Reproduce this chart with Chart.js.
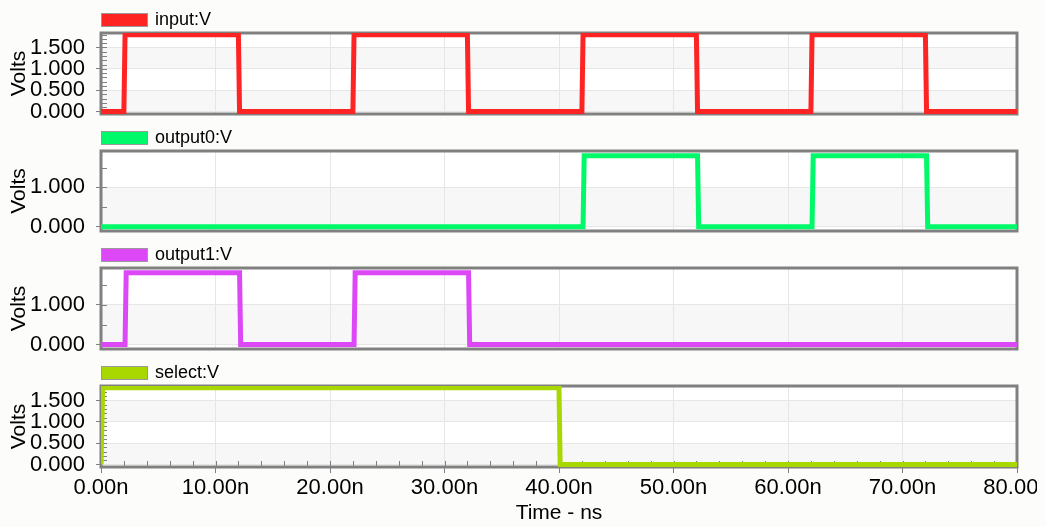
<!DOCTYPE html>
<html>
<head>
<meta charset="utf-8">
<script src="https://cdn.jsdelivr.net/npm/chart.js@4.4.1/dist/chart.umd.min.js"></script>
<style>
  html, body { margin: 0; padding: 0; overflow: hidden; background: #fcfcfa; }
  #wrap { position: relative; width: 1037px; height: 527px; overflow: hidden; }
  canvas { position: absolute; left: 0; }
</style>
</head>
<body>
<div id="wrap">
  <canvas id="c1" width="1080" height="139" style="top:0px"></canvas>
  <canvas id="c2" width="1080" height="138" style="top:118px"></canvas>
  <canvas id="c3" width="1080" height="139" style="top:235px"></canvas>
  <canvas id="c4" width="1080" height="174" style="top:353px"></canvas>
</div>
<script>
// waveforms (time in ns, value in V)
const inputT = [0, 2, 2.1, 12, 12.1, 22, 22.1, 32, 32.1, 42, 42.1, 52, 52.1, 62, 62.1, 72, 72.1, 80];
const inputV = [0, 0, 1.8, 1.8, 0, 0, 1.8, 1.8, 0, 0, 1.8, 1.8, 0, 0, 1.8, 1.8, 0, 0];
const output0T = [0, 42.1, 42.2, 52.1, 52.2, 62.1, 62.2, 72.1, 72.2, 80];
const output0V = [0, 0, 1.8, 1.8, 0, 0, 1.8, 1.8, 0, 0];
const output1T = [0, 2.1, 2.2, 12.1, 12.2, 22.1, 22.2, 32.1, 32.2, 80];
const output1V = [0, 0, 1.8, 1.8, 0, 0, 1.8, 1.8, 0, 0];
const selectT = [0, 0.15, 40, 40.1, 80];
const selectV = [0, 1.8, 1.8, 0, 0];

const xTicks = [0, 10, 20, 30, 40, 50, 60, 70, 80];
const yTicksFine = [0, 0.5, 1, 1.5];
const yTicksCoarse = [0, 1];

const FONT = "'Liberation Sans', Arial, sans-serif";
const GRAY = '#808080';

function pts(t, v) {
  return t.map((x, i) => ({ x: x, y: v[i] }));
}

const panelDeco = {
  id: 'panelDeco',
  beforeDraw(chart, args, opts) {
    const { ctx, chartArea: a } = chart;
    const y = chart.scales.y;
    ctx.save();
    ctx.fillStyle = '#ffffff';
    ctx.fillRect(a.left, a.top, a.right - a.left, a.bottom - a.top);
    // alternating bands
    ctx.fillStyle = '#f7f7f7';
    const t = opts.yMajor;
    for (let i = 0; i < t.length; i += 2) {
      const y0 = y.getPixelForValue(t[i]);
      const y1 = i + 1 < t.length ? y.getPixelForValue(t[i + 1]) : a.top;
      ctx.fillRect(a.left, y1, a.right - a.left, y0 - y1);
    }
    ctx.restore();
  },
  beforeDatasetsDraw(chart, args, opts) {
    const { ctx, chartArea: a } = chart;
    const y = chart.scales.y, x = chart.scales.x;
    ctx.save();
    ctx.strokeStyle = GRAY;
    ctx.lineWidth = 1;
    ctx.beginPath();
    for (let v = opts.yMinor; v <= y.max + 1e-9; v += opts.yMinor) {
      const py = Math.round(y.getPixelForValue(v)) + 0.5;
      ctx.moveTo(a.left, py);
      ctx.lineTo(a.left + 6, py);
    }
    if (opts.xMinor) {
      for (let v = 0; v <= 80; v += opts.xMinor) {
        const px = Math.round(x.getPixelForValue(v)) + 0.5;
        ctx.moveTo(px, a.bottom);
        ctx.lineTo(px, a.bottom - 6);
      }
    }
    ctx.stroke();
    ctx.lineWidth = 3;
    ctx.strokeRect(a.left, a.top, a.right - a.left, a.bottom - a.top);
    ctx.restore();
  },
  afterDraw(chart, args, opts) {
    const { ctx, chartArea: a } = chart;
    ctx.save();
    ctx.fillStyle = opts.color;
    ctx.fillRect(a.left, a.top - 20, 47, 14);
    ctx.strokeStyle = '#999999';
    ctx.lineWidth = 1;
    ctx.strokeRect(a.left + 0.5, a.top - 19.5, 46, 13);
    ctx.fillStyle = '#000000';
    ctx.font = '18px ' + FONT;
    ctx.textBaseline = 'middle';
    ctx.fillText(opts.label, a.left + 54, a.top - 13);
    ctx.restore();
  }
};

function makePanel(id, label, color, t, v, yMajor, yMinor, yMin, yMax, bottom) {
  new Chart(document.getElementById(id), {
    type: 'line',
    data: {
      datasets: [{
        data: pts(t, v),
        borderColor: color,
        borderWidth: 5,
        pointRadius: 0,
        tension: 0,
        fill: false
      }]
    },
    plugins: [panelDeco],
    options: {
      responsive: false,
      animation: false,
      layout: { padding: { top: 33, right: 63, bottom: bottom ? 0 : 25, left: 0 } },
      plugins: {
        legend: { display: false },
        tooltip: { enabled: false },
        panelDeco: { label: label, color: color, yMajor: yMajor, yMinor: yMinor, xMinor: bottom ? 2 : 0 }
      },
      scales: {
        x: {
          type: 'linear',
          min: 0,
          max: 80,
          afterBuildTicks: s => { s.ticks = xTicks.map(val => ({ value: val })); },
          afterFit: s => { s.height = bottom ? 60 : 0; },
          border: { display: false },
          grid: { color: '#e6e6e6', drawTicks: bottom, tickLength: 6, tickColor: GRAY },
          ticks: {
            display: bottom,
            maxRotation: 0,
            padding: 2,
            color: '#000',
            font: { family: FONT, size: 22 },
            callback: val => val.toFixed(2) + 'n'
          },
          title: {
            display: bottom,
            text: 'Time - ns',
            color: '#000',
            font: { family: FONT, size: 21 },
            padding: { top: 0, bottom: 1 }
          }
        },
        y: {
          min: yMin,
          max: yMax,
          afterBuildTicks: s => { s.ticks = yMajor.map(val => ({ value: val })); },
          afterFit: s => { s.width = 101; },
          border: { display: false },
          grid: { color: '#e6e6e6', tickLength: 5, tickColor: GRAY },
          ticks: {
            autoSkip: false,
            padding: 11,
            color: '#000',
            font: { family: FONT, size: 22 },
            callback: val => val.toFixed(3)
          },
          title: {
            display: true,
            text: 'Volts',
            color: '#000',
            font: { family: FONT, size: 21 },
            padding: { top: 7, bottom: 0 }
          }
        }
      }
    }
  });
}

makePanel('c1', 'input:V', '#ff2424', inputT, inputV, yTicksFine, 0.1, -0.06, 1.84, false);
makePanel('c2', 'output0:V', '#00f968', output0T, output0V, yTicksCoarse, 0.5, -0.11, 1.92, false);
makePanel('c3', 'output1:V', '#dc48f6', output1T, output1V, yTicksCoarse, 0.5, -0.11, 1.92, false);
makePanel('c4', 'select:V', '#a8d800', selectT, selectV, yTicksFine, 0.1, -0.06, 1.84, true);
</script>
</body>
</html>
